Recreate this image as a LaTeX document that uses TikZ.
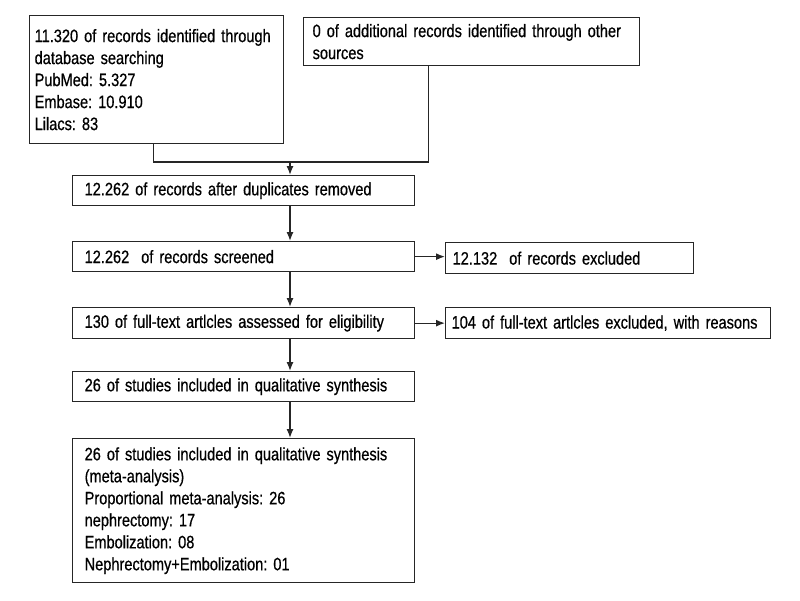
\documentclass[tikz,border=0pt]{standalone}
\usepackage{fontspec}
\setmainfont[FakeStretch=0.81,FakeBold=0.6]{Liberation Sans}
\usetikzlibrary{arrows.meta}
\frenchspacing
\hyphenpenalty=10000

\begin{document}
\begin{tikzpicture}[x=1pt,y=-1pt,->,>={Latex[length=9pt,width=7pt]},
    box/.style={draw=black!85,rectangle,-,anchor=north west,align=left,inner ysep=0pt,
      line width=1.3pt,font=\fontsize{18}{22}\selectfont},
    link/.style={line width=1.3pt,draw=black!85}]
  \useasboundingbox (0,0) rectangle (800,600);
  % identification
  \node[box,inner xsep=5pt,text width=244pt,minimum height=128pt] (found) at (29,15)
    {11.320 of records identified through\\database searching\\PubMed: 5.327\\Embase: 10.910\\Lilacs: 83};
  \node[box,inner xsep=9pt,text width=318pt,minimum height=48pt] (other) at (303,17)
    {0 of additional records identified through other\\sources};
  % screening
  \node[box,inner xsep=12pt,text width=318pt,minimum height=30pt] (dupl) at (72,175)
    {12.262 of records after duplicates removed};
  \node[box,inner xsep=12pt,text width=318pt,minimum height=30pt] (screen) at (72,241)
    {12.262 \ of records screened};
  \node[box,inner xsep=7pt,text width=234pt,minimum height=31pt] (excl) at (445,242)
    {12.132 \ of records excluded};
  % eligibility
  \node[box,inner xsep=12pt,text width=318pt,minimum height=31pt] (full) at (72,307)
    {130 of full-text artlcles assessed for eligibility};
  \node[box,inner xsep=6pt,text width=313pt,minimum height=31pt] (fullexcl) at (445,307)
    {104 of full-text artlcles excluded, with reasons};
  % included
  \node[box,inner xsep=12pt,text width=318pt,minimum height=30pt] (qual) at (72,371)
    {26 of studies included in qualitative synthesis};
  \node[box,inner xsep=12pt,text width=318pt,minimum height=144pt] (meta) at (72,438)
    {26 of studies included in qualitative synthesis\\(meta-analysis)\\Proportional meta-analysis: 26\\nephrectomy: 17\\Embolization: 08\\Nephrectomy+Embolization: 01};

  \coordinate (join) at (290,162);
  \draw[link,-] ([xshift=-3pt]found.south) |- (join);
  \draw[link,-] ([xshift=-43pt]other.south) |- (join);
  \draw[link] (join) -- (dupl.north -| join);
  \draw[link] (dupl.south -| join) -- (screen.north -| join);
  \draw[link] (screen.south -| join) -- (full.north -| join);
  \draw[link] (full.south -| join) -- (qual.north -| join);
  \draw[link] (qual.south -| join) -- (meta.north -| join);
  \draw[link] (screen.east) -- (screen.east -| excl.west);
  \draw[link] (full.east) -- (full.east -| fullexcl.west);
\end{tikzpicture}
\end{document}
